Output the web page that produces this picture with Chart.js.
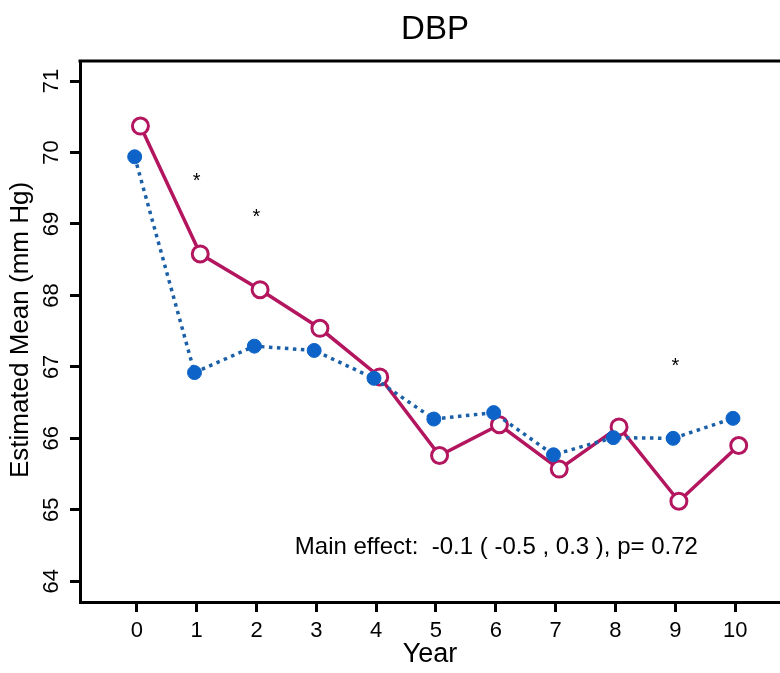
<!DOCTYPE html>
<html>
<head>
<meta charset="utf-8">
<script src="https://cdn.jsdelivr.net/npm/chart.js@4.4.0/dist/chart.umd.min.js"></script>
<style>
  body { margin: 0; background: #fff; }
  canvas { display: block; }
</style>
</head>
<body>
<canvas id="dbpChart" width="780" height="673"></canvas>
<script>
// data
const years = [0, 1, 2, 3, 4, 5, 6, 7, 8, 9, 10];
const blueMeans = [69.94, 66.92, 67.29, 67.23, 66.84, 66.27, 66.36, 65.77, 66.01, 66.00, 66.28];
const redMeans = [70.37, 68.58, 68.08, 67.54, 66.86, 65.76, 66.19, 65.57, 66.16, 65.12, 65.90];
const starYears = [1, 2, 9];
const starValues = [69.66, 69.16, 67.07];
const yTickLabels = [64, 65, 66, 67, 68, 69, 70, 71];
const xTickLabels = ['0', '1', '2', '3', '4', '5', '6', '7', '8', '9', '10'];
const chartTitle = 'DBP';
const yTitle = 'Estimated Mean (mm Hg)';
const xTitle = 'Year';
const noteText = 'Main effect:  -0.1 ( -0.5 , 0.3 ), p= 0.72';

const FONT = '"Liberation Sans", Arial, sans-serif';

// small horizontal dodge so the two groups don't sit exactly on top of each other
const dodge = 0.06;

const textLayer = {
  id: 'textLayer',
  afterDraw(chart) {
    const { ctx, chartArea, scales: { x, y } } = chart;
    ctx.save();

    // top edge of the frame
    ctx.strokeStyle = '#000';
    ctx.lineWidth = 3;
    ctx.beginPath();
    ctx.moveTo(chartArea.left - 1.5, chartArea.top);
    ctx.lineTo(chartArea.right, chartArea.top);
    ctx.stroke();

    ctx.fillStyle = '#000';
    ctx.textAlign = 'center';
    ctx.textBaseline = 'middle';

    ctx.font = '33px ' + FONT;
    ctx.fillText(chartTitle, 435, 30);

    // rotated y tick labels
    ctx.font = '22px ' + FONT;
    yTickLabels.forEach(v => {
      ctx.save();
      ctx.translate(52, y.getPixelForValue(v));
      ctx.rotate(-Math.PI / 2);
      ctx.fillText(String(v), 0, 0);
      ctx.restore();
    });

    ctx.save();
    ctx.font = '26px ' + FONT;
    ctx.translate(21, 330);
    ctx.rotate(-Math.PI / 2);
    ctx.fillText(yTitle, 0, 0);
    ctx.restore();

    // significance stars
    ctx.font = '20px ' + FONT;
    starYears.forEach((yr, i) => {
      ctx.fillText('*', x.getPixelForValue(yr), y.getPixelForValue(starValues[i]) + 5);
    });

    ctx.textAlign = 'left';
    ctx.font = '24px ' + FONT;
    ctx.fillText(noteText, x.getPixelForValue(2.64), y.getPixelForValue(64.48));

    ctx.restore();
  }
};

const axisGrid = {
  display: true,
  drawOnChartArea: false,
  drawTicks: true,
  tickLength: 10,
  tickWidth: 3,
  tickColor: '#000'
};

new Chart(document.getElementById('dbpChart'), {
  type: 'line',
  data: {
    datasets: [
      {
        label: 'blue',
        data: years.map((yr, i) => ({ x: yr - dodge * 0.6, y: blueMeans[i] })),
        borderColor: '#1a5fa8',
        borderWidth: 3.5,
        borderDash: [3.5, 4.5],
        pointRadius: 7,
        pointBackgroundColor: '#0d63c8',
        pointBorderColor: '#0d63c8',
        pointBorderWidth: 1,
        tension: 0
      },
      {
        label: 'red',
        data: years.map((yr, i) => ({ x: yr + dodge, y: redMeans[i] })),
        borderColor: '#b3155f',
        borderWidth: 3.5,
        pointRadius: 8,
        pointBackgroundColor: '#fff',
        pointBorderColor: '#b3155f',
        pointBorderWidth: 3,
        tension: 0
      }
    ]
  },
  options: {
    responsive: false,
    animation: false,
    layout: { autoPadding: false, padding: { top: 61, right: 0, bottom: 0, left: 0 } },
    plugins: {
      legend: { display: false },
      tooltip: { enabled: false },
      title: { display: false }
    },
    scales: {
      x: {
        type: 'linear',
        position: 'bottom',
        min: -0.95,
        max: 10.75,
        afterFit: s => { s.height = 71; },
        ticks: {
          stepSize: 1,
          includeBounds: false,
          autoSkip: false,
          maxRotation: 0,
          padding: 6,
          color: '#000',
          font: { size: 22, family: FONT },
          callback: v => xTickLabels[v]
        },
        grid: axisGrid,
        border: { display: true, color: '#000', width: 3 },
        title: {
          display: true,
          text: xTitle,
          color: '#000',
          font: { size: 27, family: FONT },
          padding: { top: 0, bottom: 2 }
        }
      },
      y: {
        type: 'linear',
        min: 63.71,
        max: 71.28,
        afterFit: s => { s.width = 80; },
        ticks: { stepSize: 1, includeBounds: false, display: false },
        grid: axisGrid,
        border: { display: true, color: '#000', width: 3 }
      }
    }
  },
  plugins: [textLayer]
});
</script>
</body>
</html>
